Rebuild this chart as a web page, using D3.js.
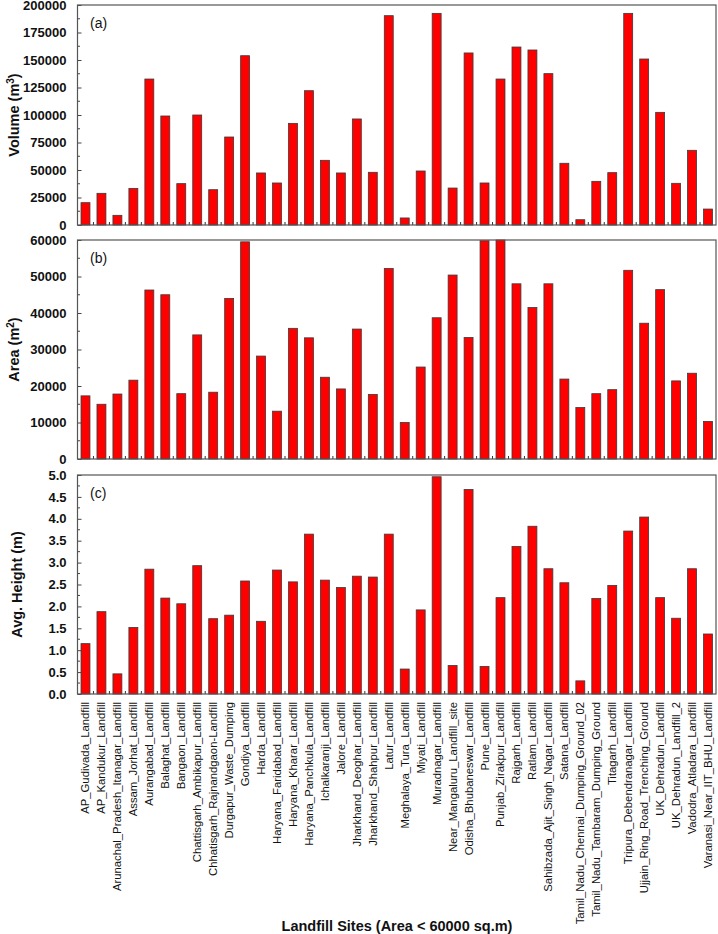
<!DOCTYPE html>
<html>
<head>
<meta charset="utf-8">
<script src="https://cdn.jsdelivr.net/npm/d3@7"></script>
<style>
  body { margin: 0; background: #fff; }
  svg { display: block; }
  text { font-family: "Liberation Sans", Arial, sans-serif; }
</style>
</head>
<body>
<div id="chart"></div>
<script>
// Landfill sites (x categories)
const sites = [
  "AP_Gudivada_Landfill", "AP_Kandukur_Landfill", "Arunachal_Pradesh_Itanagar_Landfill",
  "Assam_Jorhat_Landfill", "Aurangabad_Landfill", "Balaghat_Landfill", "Bangaon_Landfill",
  "Chattisgarh_Ambikapur_Landfill", "Chhatisgarh_Rajnandgaon-Landfill", "Durgapur_Waste_Dumping",
  "Gondiya_Landfill", "Harda_Landfill", "Haryana_Faridabad_Landfill", "Haryana_Kharar_Landfill",
  "Haryana_Panchkula_Landfill", "Ichalkaranji_Landfill", "Jalore_Landfill",
  "Jharkhand_Deoghar_Landfill", "Jharkhand_Shahpur_Landfill", "Latur_Landfill",
  "Meghalaya_Tura_Landfill", "Miyati_Landfill", "Muradnagar_Landfill",
  "Near_Mangaluru_Landfill_site", "Odisha_Bhubaneswar_Landfill", "Pune_Landfill",
  "Punjab_Zirakpur_Landfill", "Rajgarh_Landfill", "Ratlam_Landfill",
  "Sahibzada_Ajit_Singh_Nagar_Landfill", "Satana_Landfill",
  "Tamil_Nadu_Chennai_Dumping_Ground_02", "Tamil_Nadu_Tambaram_Dumping_Ground",
  "Titagarh_Landfill", "Tripura_Debendranagar_Landfill", "Ujjain_Ring_Road_Trenching_Ground",
  "UK_Dehradun_Landfill", "UK_Dehradun_Landfill_2", "Vadodra_Atladara_Landfill",
  "Varanasi_Near_IIT_BHU_Landfill"
];

// (a) volume, m3
const volume = [
  20300, 28800, 8800, 33300, 132700, 99100, 37600, 100000, 32100, 80000,
  153900, 47300, 38200, 92400, 122100, 58800, 47300, 96400, 47900, 190300,
  6400, 49100, 192400, 33600, 156400, 38200, 132700, 161800, 159100, 137600,
  56100, 4800, 39700, 47600, 192400, 150900, 102400, 37900, 67900, 14500
];

// (b) area, m2
const area = [
  17300, 15000, 17800, 21600, 46300, 45000, 17900, 34000, 18300, 44000,
  59500, 28200, 13100, 35800, 33200, 22400, 19200, 35600, 17700, 52200,
  10000, 25200, 38700, 50400, 33300, 59800, 60000, 48000, 41500, 48000,
  21900, 14100, 17900, 19000, 51700, 37200, 46400, 21400, 23500, 10300
];

// (c) average height, m
const height = [
  1.15, 1.88, 0.46, 1.52, 2.85, 2.19, 2.06, 2.93, 1.72, 1.80,
  2.58, 1.66, 2.83, 2.56, 3.65, 2.60, 2.43, 2.69, 2.67, 3.65,
  0.57, 1.92, 4.96, 0.65, 4.67, 0.63, 2.20, 3.37, 3.83, 2.86,
  2.54, 0.30, 2.18, 2.48, 3.72, 4.04, 2.20, 1.73, 2.86, 1.37
];

const volumeTicks = d3.range(0, 200001, 25000);
const areaTicks = d3.range(0, 60001, 10000);
const heightTicks = d3.range(0, 5.01, 0.5);

const width = 718, heightPx = 934;
const left = 77.5, right = 716;

const svg = d3.select('#chart')
  .append('svg')
  .attr('width', width)
  .attr('height', heightPx);

const x = d3.scaleBand()
  .domain(sites)
  .range([left, right])
  .paddingInner(0.44)
  .paddingOuter(0.22);

const panels = [
  { data: volume, ticks: volumeTicks, max: 200000, top: 5, bottom: 225,
    tag: '(a)', title: 'Volume (m', sup: '3', fmt: d3.format('d') },
  { data: area, ticks: areaTicks, max: 60000, top: 240, bottom: 459,
    tag: '(b)', title: 'Area (m', sup: '2', fmt: d3.format('d') },
  { data: height, ticks: heightTicks, max: 5, top: 475, bottom: 694,
    tag: '(c)', title: 'Avg. Height (m)', sup: null, fmt: d3.format('.1f') }
];

panels.forEach(p => {
  const y = d3.scaleLinear().domain([0, p.max]).range([p.bottom, p.top]);
  const g = svg.append('g');

  // bars
  g.selectAll('rect.bar')
    .data(p.data)
    .join('rect')
    .attr('class', 'bar')
    .attr('x', (d, i) => x(sites[i]))
    .attr('width', x.bandwidth())
    .attr('y', d => y(Math.min(d, p.max)))
    .attr('height', d => y(0) - y(Math.min(d, p.max)))
    .attr('fill', '#ff0000')
    .attr('stroke', '#3a3a3a')
    .attr('stroke-width', 0.8);

  // minor ticks (inside)
  const step = p.ticks[1] - p.ticks[0];
  const minor = p.ticks.slice(0, -1).map(t => t + step / 2);
  g.selectAll('line.minor')
    .data(minor)
    .join('line')
    .attr('x1', left).attr('x2', left + 2.5)
    .attr('y1', d => y(d)).attr('y2', d => y(d))
    .attr('stroke', '#444').attr('stroke-width', 1);

  // left axis, ticks inside
  const axis = d3.axisLeft(y)
    .tickValues(p.ticks)
    .tickFormat(p.fmt)
    .tickSizeInner(-4)
    .tickSizeOuter(0)
    .tickPadding(11);
  const ag = g.append('g')
    .attr('transform', `translate(${left},0)`)
    .call(axis);
  ag.select('.domain').remove();
  ag.selectAll('line').attr('stroke', '#444');
  ag.selectAll('text')
    .attr('font-size', 13)
    .attr('font-weight', 'bold')
    .attr('fill', '#111');

  // bottom ticks at band boundaries
  const bounds = d3.range(1, sites.length).map(i => x(sites[i]) - x.step() * x.paddingInner() / 2);
  g.selectAll('line.xt')
    .data(bounds)
    .join('line')
    .attr('x1', d => d).attr('x2', d => d)
    .attr('y1', p.bottom).attr('y2', p.bottom - 3)
    .attr('stroke', '#333').attr('stroke-width', 1);

  // frame
  g.append('rect')
    .attr('x', left).attr('y', p.top)
    .attr('width', right - left).attr('height', p.bottom - p.top)
    .attr('fill', 'none')
    .attr('stroke', '#555')
    .attr('stroke-width', 1.2);

  // panel tag
  g.append('text')
    .attr('x', 90).attr('y', p.top + 23)
    .attr('font-family', '"Liberation Serif", "Times New Roman", serif')
    .attr('font-size', 14)
    .attr('fill', '#111')
    .text(p.tag);

  // y title
  const cy = (p.top + p.bottom) / 2;
  const t = g.append('text')
    .attr('transform', `translate(${p.sup ? 19 : 22},${cy}) rotate(-90)`)
    .attr('text-anchor', 'middle')
    .attr('font-size', 14.5)
    .attr('font-weight', 'bold')
    .attr('fill', '#111');
  t.append('tspan').text(p.title);
  if (p.sup) {
    t.append('tspan').attr('baseline-shift', 'super').attr('font-size', 10).text(p.sup);
    t.append('tspan').text(')');
  }
});

// x labels under the bottom panel
svg.append('g')
  .selectAll('text')
  .data(sites)
  .join('text')
  .attr('transform', d => `translate(${x(d) + x.bandwidth() / 2},702) rotate(-90)`)
  .attr('text-anchor', 'end')
  .attr('dy', '0.35em')
  .attr('font-size', 11.3)
  .attr('fill', '#111')
  .text(d => d);

// x title
svg.append('text')
  .attr('x', 397)
  .attr('y', 931)
  .attr('text-anchor', 'middle')
  .attr('font-size', 14.5)
  .attr('font-weight', 'bold')
  .attr('fill', '#111')
  .text('Landfill Sites (Area < 60000 sq.m)');
</script>
</body>
</html>
